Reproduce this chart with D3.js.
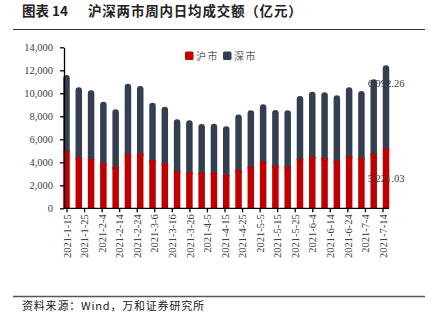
<!DOCTYPE html>
<html>
<head>
<meta charset="utf-8">
<script src="https://cdn.jsdelivr.net/npm/d3@7"></script>
<style>
  body { margin: 0; background: #fff; }
  svg { display: block; }
  .axis path, .axis line { stroke: #000; stroke-width: 1.3; }
  .axis text { font-family: "Liberation Serif", serif; font-size: 10.5px; fill: #404040; }
</style>
</head>
<body>
<svg width="431" height="336"></svg>
<script>
// weekly dates (Fridays)
const weeks = [
  "2021-01-15", "2021-01-22", "2021-01-29", "2021-02-05", "2021-02-12",
  "2021-02-19", "2021-02-26", "2021-03-05", "2021-03-12", "2021-03-19",
  "2021-03-26", "2021-04-02", "2021-04-09", "2021-04-16", "2021-04-23",
  "2021-04-30", "2021-05-07", "2021-05-14", "2021-05-21", "2021-05-28",
  "2021-06-04", "2021-06-11", "2021-06-18", "2021-06-25", "2021-07-02",
  "2021-07-09", "2021-07-16"
];
// 沪市
const shValues = [
  5010, 4440, 4290, 3910, 3620, 4720, 4780, 4200, 3910, 3240,
  3180, 3100, 3100, 2920, 3330, 3620, 4050, 3740, 3620, 4310,
  4490, 4400, 4110, 4550, 4400, 4780, 5221.03
];
// 深市
const szValues = [
  6360, 5860, 5750, 5140, 4770, 5900, 5630, 4760, 4700, 4280,
  4250, 4010, 4040, 3990, 4620, 4680, 4770, 4590, 4680, 5240,
  5430, 5470, 5500, 5750, 5580, 6220, 6992.26
];
const tickDates = [
  "2021-01-15", "2021-01-25", "2021-02-04", "2021-02-14", "2021-02-24",
  "2021-03-06", "2021-03-16", "2021-03-26", "2021-04-05", "2021-04-15",
  "2021-04-25", "2021-05-05", "2021-05-15", "2021-05-25", "2021-06-04",
  "2021-06-14", "2021-06-24", "2021-07-04", "2021-07-14"
];
const yTicks = [0, 2000, 4000, 6000, 8000, 10000, 12000, 14000];
const seriesNames = ["沪市", "深市"];

const parse = d3.timeParse("%Y-%m-%d");
const fmt = d3.timeFormat("%Y-%-m-%-d");
const colors = ["#C00000", "#333F50"];

const svg = d3.select("svg");

const data = weeks.map((w, i) => ({ date: parse(w), sh: shValues[i], sz: szValues[i] }));

const x = d3.scaleTime()
    .domain([parse(weeks[0]), parse(weeks[weeks.length - 1])])
    .range([66.5, 386]);

const y = d3.scaleLinear()
    .domain([0, 14000])
    .range([208.3, 47.3]);

const barW = 6.5, cap = 2.5;

// title
svg.append("text")
    .attr("x", 22).attr("y", 16)
    .style("font-family", "'Noto Sans CJK SC'")
    .style("font-size", "13.5px").style("font-weight", "bold")
    .attr("fill", "#222")
    .text("图表 14");
svg.append("text")
    .attr("x", 88).attr("y", 16)
    .style("font-family", "'Noto Sans CJK SC'")
    .style("font-size", "13.5px").style("font-weight", "bold")
    .style("letter-spacing", "0.8px")
    .attr("fill", "#222")
    .text("沪深两市周内日均成交额（亿元）");
svg.append("line")
    .attr("x1", 13).attr("x2", 425).attr("y1", 29.5).attr("y2", 29.5)
    .attr("stroke", "#333").attr("stroke-width", 1);

// bars
const bars = svg.append("g");
bars.selectAll("rect.sz")
  .data(data)
  .enter().append("rect")
    .attr("class", "sz")
    .attr("x", d => x(d.date) - barW / 2)
    .attr("y", d => y(d.sh + d.sz) - cap)
    .attr("width", barW)
    .attr("height", d => y(d.sh) - y(d.sh + d.sz) + cap + 4)
    .attr("rx", 3.2)
    .attr("fill", colors[1]);
bars.selectAll("rect.sh")
  .data(data)
  .enter().append("rect")
    .attr("class", "sh")
    .attr("x", d => x(d.date) - barW / 2)
    .attr("y", d => y(d.sh))
    .attr("width", barW)
    .attr("height", d => y(0) - y(d.sh))
    .attr("fill", colors[0]);

// axes
svg.append("g")
    .attr("class", "axis")
    .attr("transform", "translate(64,0)")
    .call(d3.axisLeft(y).tickValues(yTicks).tickSize(4).tickSizeOuter(0).tickPadding(7)
      .tickFormat(d3.format(",")));

const xAxis = svg.append("g")
    .attr("class", "axis")
    .attr("transform", `translate(0,${y(0)})`)
    .call(d3.axisBottom(x).tickValues(tickDates.map(parse)).tickSize(4).tickSizeOuter(0)
      .tickFormat(fmt));
xAxis.select(".domain").attr("d", "M64,0H389");
xAxis.selectAll("text")
    .attr("transform", "rotate(-90)")
    .attr("text-anchor", "end")
    .attr("x", -6).attr("y", 0).attr("dy", "0.35em");

// value labels on the last bar
const last = data[data.length - 1];
svg.append("text")
    .attr("x", x(last.date)).attr("y", y(last.sh + last.sz) + 19)
    .attr("text-anchor", "middle")
    .style("font-family", "'Liberation Serif', serif").style("font-size", "10.5px")
    .attr("fill", "#404040")
    .text(d3.format(",.2f")(last.sz));
svg.append("text")
    .attr("x", x(last.date)).attr("y", (y(0) + y(last.sh)) / 2 + 4)
    .attr("text-anchor", "middle")
    .style("font-family", "'Liberation Serif', serif").style("font-size", "10.5px")
    .attr("fill", "#404040")
    .text(d3.format(",.2f")(last.sh));

// legend
const legend = svg.append("g");
const legX = [185, 223];
seriesNames.forEach((name, i) => {
  legend.append("rect")
      .attr("x", legX[i]).attr("y", 51.5).attr("width", 8.5).attr("height", 8.5)
      .attr("rx", 1.5).attr("fill", colors[i]);
  legend.append("text")
      .attr("x", legX[i] + 11).attr("y", 59.5)
      .style("font-family", "'Noto Sans CJK SC'").style("font-size", "10px")
      .style("letter-spacing", "1.5px")
      .attr("fill", "#595959")
      .text(name);
});

// footer
svg.append("line")
    .attr("x1", 13).attr("x2", 425).attr("y1", 296.5).attr("y2", 296.5)
    .attr("stroke", "#555").attr("stroke-width", 1.3);
svg.append("text")
    .attr("x", 22).attr("y", 310)
    .style("font-family", "'Noto Sans CJK SC'").style("font-size", "11px")
    .style("letter-spacing", "0.8px")
    .attr("fill", "#222")
    .text("资料来源：Wind，万和证券研究所");
</script>
</body>
</html>
